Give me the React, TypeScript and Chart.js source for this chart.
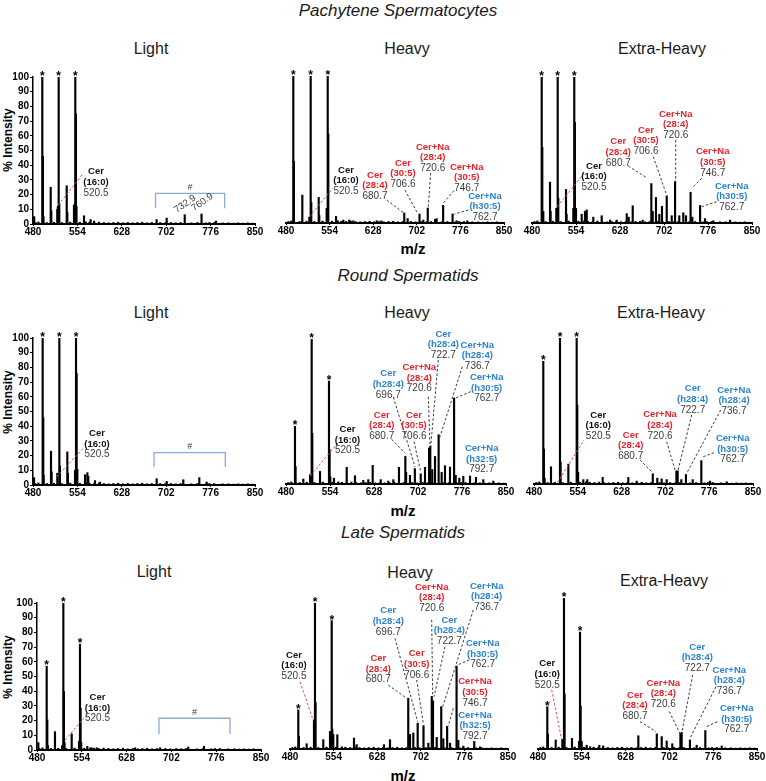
import React, { useEffect, useRef } from "react";
import { Chart, registerables } from "chart.js";

Chart.register(...registerables);

const FONT = '"Liberation Sans", Arial, Helvetica, sans-serif';

// ---------- axis tick labels ----------
const MZ_TICKS = [480, 554, 628, 702, 776, 850];
const INTENSITY_TICKS = [0, 10, 20, 30, 40, 50, 60, 70, 80, 90, 100];

type Peak = [number, number]; // [m/z, % intensity]

// ---------- spectra ----------
const pachyteneLight: Peak[] = [
  [482, 5], [495.5, 100], [496.5, 46], [497.5, 5], [509.5, 25], [510.5, 9], [520.5, 10], [521.5, 12],
  [522.8, 100], [523.8, 14], [536.2, 26], [537.2, 8], [548.3, 13], [550.5, 100], [551.5, 75], [552.5, 12],
  [565, 5.6], [576, 3], [581.7, 2], [686, 3], [702.8, 4], [732.9, 6.3], [760.9, 6.8], [785, 2],
];
const pachyteneHeavy: Peak[] = [
  [492.4, 100], [493.4, 42], [507.7, 19], [519.6, 4], [521.9, 100], [522.9, 14], [535.5, 17.4], [536.5, 5],
  [549, 10], [550.8, 100], [551.8, 60.6], [564.9, 4.5], [577.3, 2], [587.4, 2], [594.2, 1.5], [634, 1.5],
  [642, 1.5], [680.7, 6.8], [686.5, 3], [706.6, 6.1], [713, 2], [720.6, 10.2], [733, 2.5], [735.7, 3],
  [746.7, 12], [762.7, 6.1], [769.7, 1.5], [787.7, 1.5],
];
const pachyteneExtraHeavy: Peak[] = [
  [496.3, 100], [497.3, 51.8], [499, 8], [510.3, 28], [511.3, 8], [520.9, 10], [523.2, 100], [524.2, 17],
  [537.2, 23], [538.2, 6], [549.5, 10], [551.1, 100], [552.1, 69], [554, 10], [563.6, 6], [569.1, 8],
  [572, 9], [583.1, 4], [597.2, 5], [611.2, 2], [622.4, 2], [639.3, 6.4], [642.6, 4], [649.4, 11.8],
  [666.2, 2], [680.7, 27], [683, 8], [688.5, 17.5], [694.1, 6], [698.6, 11.4], [706.6, 18.6], [715, 5],
  [720.6, 28.4], [727.7, 5], [734.5, 7], [739, 5], [746.7, 21], [749.6, 4], [762.7, 12], [771, 3],
  [785, 1.5], [813, 2],
];
const roundLight: Peak[] = [
  [481.7, 5], [496.1, 100], [497.1, 45.8], [497.8, 6.6], [510, 23], [511, 9], [520.5, 8], [523.9, 100],
  [524.9, 13], [537.2, 22.5], [538.2, 8], [550, 10], [551.7, 100], [552.7, 76], [553.9, 10.7], [566.7, 7],
  [570.6, 8.4], [572.2, 6], [583.3, 3], [591.7, 2], [686.1, 4.3], [702.8, 2.5], [730.5, 3.6], [757.2, 5],
  [769.5, 2],
];
const roundHeavy: Peak[] = [
  [495.1, 39.8], [496.1, 12], [509.1, 3.4], [520.5, 6.4], [523.2, 100], [524.2, 35], [537.2, 8.7],
  [552.3, 71], [553.3, 23.7], [554.5, 5], [560.7, 4], [582.1, 11.5], [596, 5.7], [610, 2.5], [618.4, 3],
  [625.8, 12.9], [639.3, 3], [652, 2], [660.5, 3], [670, 11.5], [680.7, 19], [682, 8], [688.5, 6],
  [696.7, 10.6], [706.6, 7], [713.8, 11.5], [720.6, 24.8], [722.7, 26], [726, 10], [730.6, 19],
  [736.7, 34], [741.8, 8], [747.4, 12.6], [755.8, 11.7], [762.7, 59.3], [765.4, 6], [771.5, 4],
  [778.2, 5.3], [789.5, 5.5], [799.5, 4.6], [811.8, 3], [828.6, 2],
];
const roundExtraHeavy: Peak[] = [
  [495.7, 84], [496.7, 24], [498, 4], [508.7, 11.8], [523.9, 100], [524.9, 15], [538, 13.6], [552.1, 100],
  [553.1, 54], [554.5, 8], [563.3, 3], [570, 3], [596, 4.5], [639.3, 4.5], [653.5, 2], [680.7, 7],
  [688.3, 4], [695.7, 3.5], [704.2, 3], [720.6, 9], [722.7, 9], [728.9, 3], [736.7, 6.5], [748.1, 3],
  [762.7, 16], [777.4, 2], [805.6, 1.5],
];
const lateLight: Peak[] = [
  [482.2, 5], [496, 57], [497, 20.5], [498, 3], [509.7, 12.5], [521.5, 3], [523.5, 100], [524.5, 39.8],
  [525.5, 5], [537.3, 11], [549.4, 6], [551, 72], [552, 28.4], [553, 5], [563.1, 2.5], [570.3, 1.5],
  [578.6, 1.5], [641.9, 1.5], [683.2, 1.5], [729.9, 2], [755.8, 2.5],
];
const lateHeavy: Peak[] = [
  [494.1, 26.8], [495.1, 8.6], [508.3, 3.6], [520.7, 20], [522.4, 100], [523.4, 31.8], [536.5, 6.4],
  [547.9, 12], [550.8, 88], [551.8, 13.6], [553.5, 10], [560.3, 9.8], [588.6, 7.5], [593.2, 3],
  [639.5, 3], [649.7, 6.4], [680.7, 34.8], [683.7, 10], [689.3, 11], [696.7, 17.7], [706.6, 16],
  [714.8, 4], [720.6, 36], [722.7, 33], [729, 8], [736.7, 29], [740.2, 7], [746.7, 15.5], [751.6, 4],
  [762.7, 56.8], [765.7, 6], [774.2, 2], [792.7, 5.2], [802.5, 1.5],
];
const lateExtraHeavy: Peak[] = [
  [495.7, 28], [496.7, 10], [509.9, 6], [521.1, 6.4], [523.9, 100], [524.9, 36.5], [537.4, 7], [549.3, 5],
  [551, 77.4], [552, 28.5], [553.8, 5], [562.3, 2.5], [583.6, 2.5], [590, 2], [649.5, 8.8], [680.7, 10],
  [689, 8.2], [697.4, 5.3], [706.9, 3.5], [720.6, 10.4], [722.7, 11], [736.7, 6], [748.1, 2.5],
  [762.7, 12.2], [790.4, 2],
];

// low-level baseline noise seen under every spectrum
const baselineNoise: Peak[] = [
  [484, 1], [489, 1.4], [503, 1], [515, 1.2], [528, 1], [542, 1.3], [558, 1.2], [568, 1.5], [574, 1.2],
  [582, 1], [590, 1.3], [598, 1], [606, 0.8], [614, 1], [622, 1.2], [630, 0.8], [638, 1], [646, 0.8],
  [654, 1], [662, 1.2], [670, 0.8], [678, 1], [692, 1], [700, 0.8], [710, 1], [718, 0.8], [726, 1],
  [744, 0.8], [754, 1], [768, 0.8], [774, 1], [782, 1], [796, 0.8], [806, 0.8], [814, 0.6], [822, 0.8],
  [830, 0.6], [838, 0.8], [846, 0.6],
];

// peaks marked with an asterisk (m/z)
const pachyteneLightStars = [495.5, 522.8, 550.5];
const pachyteneHeavyStars = [492.4, 521.9, 550.8];
const pachyteneExtraHeavyStars = [496.3, 523.2, 551.1];
const roundLightStars = [496.1, 523.9, 551.7];
const roundHeavyStars = [495.1, 523.2, 552.3];
const roundExtraHeavyStars = [495.7, 523.9, 552.1];
const lateLightStars = [496, 523.5, 551];
const lateHeavyStars = [494.1, 522.4, 550.8];
const lateExtraHeavyStars = [495.7, 523.9, 551];

// ---------- annotations (positions in data units: [m/z, %]) ----------
type Tone = "k" | "r" | "b";
type Note = {
  name: string; chain: string; mass: string; tone: Tone;
  at: [number, number]; from?: [number, number]; to?: [number, number]; lineTone: Tone;
};
const note = (
  name: string, chain: string, mass: string, tone: Tone, at: [number, number],
  from?: [number, number], to?: [number, number], lineTone: Tone = "k"
): Note => ({ name, chain, mass, tone, at, from, to, lineTone });

const pachyteneLightNotes = [note("Cer", "(16:0)", "520.5", "k", [585, 35.6], [522.2, 12.9], [563.8, 34.5], "r")];
const pachyteneHeavyNotes = [
  note("Cer", "(16:0)", "520.5", "k", [581.8, 36.1], [519.5, 4.3], [559.3, 23.6], "r"),
  note("Cer", "(28:4)", "680.7", "r", [631, 32.7], [650.9, 15.6], [679.1, 7]),
  note("Cer", "(30:5)", "706.6", "r", [678.6, 40.8], [682, 22.4], [702.8, 7]),
  note("Cer+Na", "(28:4)", "720.6", "r", [729, 51.7], [725.6, 34], [721.5, 11.1]),
  note("Cer+Na", "(30:5)", "746.7", "r", [786.7, 38.1], [765.1, 22], [747, 13.6]),
  note("Cer+Na", "(h30:5)", "762.7", "b", [817.7, 18.4], [789.4, 8.8], [765.6, 6.1]),
];
const pachyteneExtraHeavyNotes = [
  note("Cer", "(16:0)", "520.5", "k", [584.3, 39], [522.5, 11.2], [567.5, 34], "r"),
  note("Cer", "(28:4)", "680.7", "r", [625.1, 55.7], [642, 39], [671.7, 31.3]),
  note("Cer", "(30:5)", "706.6", "r", [671.7, 63.7], [684, 45.4], [705.4, 20.3]),
  note("Cer+Na", "(28:4)", "720.6", "r", [721.7, 74.7], [721.7, 56.8], [721.7, 28.3]),
  note("Cer+Na", "(30:5)", "746.7", "r", [783.9, 48.8], [765.4, 30.6], [748.6, 23.8]),
  note("Cer+Na", "(h30:5)", "762.7", "b", [815.9, 25.3], [790.6, 14.6], [765.4, 11.2]),
];
const roundLightNotes = [note("Cer", "(16:0)", "520.5", "k", [586.7, 35.2], [519.5, 5.6], [563.8, 25], "r")];
const roundHeavyNotes = [
  note("Cer", "(16:0)", "520.5", "k", [583.4, 37.7], [520.4, 5.5], [569.1, 29.2], "r"),
  note("Cer", "(28:4)", "680.7", "r", [641, 47.6], [657.8, 30.8], [680.1, 21.2]),
  note("Cer", "(h28:4)", "696.7", "b", [652, 76.3], [660.5, 59.8], [697, 11.9]),
  note("Cer", "(30:5)", "706.6", "r", [695.3, 47.6], [695.3, 29.2], [706.5, 8.5]),
  note("Cer+Na", "(28:4)", "720.6", "r", [704.2, 80.5], [719.3, 60.2], [722.2, 25.7]),
  note("Cer", "(h28:4)", "722.7", "b", [744.6, 103.4], [736.1, 85.5], [723.4, 25.7]),
  note("Cer+Na", "(h28:4)", "736.7", "b", [801.8, 95.9], [776.5, 80.9], [739, 32.6]),
  note("Cer+Na", "(h30:5)", "762.7", "b", [817.5, 73.6], [790.6, 63.7], [764.2, 59.1]),
  note("Cer+Na", "(h32:5)", "792.7", "b", [809.1, 24.6]),
];
const roundExtraHeavyNotes = [
  note("Cer", "(16:0)", "520.5", "k", [588.6, 47.3], [519.4, 0.9], [564.5, 30.1], "r"),
  note("Cer", "(28:4)", "680.7", "r", [643.4, 33.6], [659.1, 16.4], [678.9, 8.4]),
  note("Cer+Na", "(28:4)", "720.6", "r", [692.9, 47.7], [704.2, 29], [718.2, 9.6]),
  note("Cer", "(h28:4)", "722.7", "b", [748.1, 65.5], [746.4, 47.3], [722.8, 8.4]),
  note("Cer+Na", "(h28:4)", "736.7", "b", [817.9, 64.4], [795.4, 50.7], [738, 7.3]),
  note("Cer+Na", "(h30:5)", "762.7", "b", [815.7, 31.3], [784.1, 21.4], [766, 18.7]),
];
const lateLightNotes = [note("Cer", "(16:0)", "520.5", "k", [579.9, 35.9], [526.3, 6.8], [564.7, 25], "r")];
const lateHeavyNotes = [
  note("Cer", "(16:0)", "520.5", "k", [486.8, 64.4], [497, 46.1], [519.5, 19.4], "r"),
  note("Cer", "(28:4)", "680.7", "r", [629.9, 62.1], [646.8, 43.8], [678, 34.7]),
  note("Cer", "(h28:4)", "696.7", "b", [646.8, 94.7], [658.2, 75.8], [696.7, 18.7]),
  note("Cer", "(30:5)", "706.6", "r", [695, 65.5], [695, 47.3], [706.2, 17.6]),
  note("Cer+Na", "(28:4)", "720.6", "r", [720.5, 111], [720.5, 88.4], [722.2, 35.8]),
  note("Cer", "(h28:4)", "722.7", "b", [750.5, 88.4], [743.1, 70.1], [724.4, 35.8]),
  note("Cer+Na", "(h28:4)", "736.7", "b", [813.8, 111.6], [791.1, 95.2], [739.2, 29]),
  note("Cer+Na", "(h30:5)", "762.7", "b", [807, 72.4], [784.3, 61], [763.9, 57.5]),
  note("Cer+Na", "(30:5)", "746.7", "r", [794, 46.1], [757.2, 27.9], [748.7, 15.8]),
  note("Cer+Na", "(h32:5)", "792.7", "b", [794, 23.3]),
];
const lateExtraHeavyNotes = [
  note("Cer", "(16:0)", "520.5", "k", [495.7, 56.4], [503.1, 39.2], [520, 6], "r"),
  note("Cer", "(28:4)", "680.7", "r", [643.9, 35.8], [652.3, 18.1], [679.4, 11.5]),
  note("Cer+Na", "(28:4)", "720.6", "r", [691.7, 43.6], [701.8, 24.8], [719.9, 10.4]),
  note("Cer", "(h28:4)", "722.7", "b", [749.1, 67.5], [741.4, 49.1], [723.3, 11.5]),
  note("Cer+Na", "(h28:4)", "736.7", "b", [803.2, 52.4], [780.7, 41.3], [736.8, 7.1]),
  note("Cer+Na", "(h30:5)", "762.7", "b", [815.7, 27], [782.9, 18.1], [765, 14.8]),
];

// bracket "#" regions on Light spectra: [start m/z, end m/z, top %, bottom %]
type Bracket = { span: [number, number]; top: number; bottom: number };
const pachyteneLightBracket: Bracket = { span: [684.2, 799.5], top: 20.9, bottom: 10.7 };
const roundLightBracket: Bracket = { span: [681.7, 800.5], top: 22, bottom: 12.4 };
const lateLightBracket: Bracket = { span: [681.5, 798.8], top: 21.6, bottom: 10.9 };
// slanted peak labels in pachytene light: [text, m/z, %]
const pachyteneLightTilted: [string, number, number][] = [["732.9", 733.3, 13.6], ["760.9", 762.2, 14.8]];

// ---------- layout ----------
type Box = { x0: number; x1: number; yt: number; yb: number };
type PanelSpec = {
  key: string; box: Box; showY: boolean; peaks: Peak[]; stars: number[]; notes: Note[];
  bracket?: Bracket; tilted?: [string, number, number][];
};

const PANELS: PanelSpec[] = [
  { key: "pl", box: { x0: 33, x1: 255, yt: 77, yb: 224 }, showY: true, peaks: pachyteneLight, stars: pachyteneLightStars, notes: pachyteneLightNotes, bracket: pachyteneLightBracket, tilted: pachyteneLightTilted },
  { key: "ph", box: { x0: 286, x1: 504, yt: 76, yb: 223 }, showY: false, peaks: pachyteneHeavy, stars: pachyteneHeavyStars, notes: pachyteneHeavyNotes },
  { key: "pe", box: { x0: 532, x1: 752, yt: 77, yb: 223 }, showY: false, peaks: pachyteneExtraHeavy, stars: pachyteneExtraHeavyStars, notes: pachyteneExtraHeavyNotes },
  { key: "rl", box: { x0: 33, x1: 255, yt: 338, yb: 485 }, showY: true, peaks: roundLight, stars: roundLightStars, notes: roundLightNotes, bracket: roundLightBracket },
  { key: "rh", box: { x0: 286, x1: 506, yt: 339, yb: 484 }, showY: false, peaks: roundHeavy, stars: roundHeavyStars, notes: roundHeavyNotes },
  { key: "re", box: { x0: 534, x1: 753, yt: 338, yb: 484 }, showY: false, peaks: roundExtraHeavy, stars: roundExtraHeavyStars, notes: roundExtraHeavyNotes },
  { key: "ll", box: { x0: 37, x1: 261, yt: 603, yb: 750 }, showY: true, peaks: lateLight, stars: lateLightStars, notes: lateLightNotes, bracket: lateLightBracket },
  { key: "lh", box: { x0: 290, x1: 508, yt: 603, yb: 749 }, showY: false, peaks: lateHeavy, stars: lateHeavyStars, notes: lateHeavyNotes },
  { key: "le", box: { x0: 538, x1: 757, yt: 598, yb: 749 }, showY: false, peaks: lateExtraHeavy, stars: lateExtraHeavyStars, notes: lateExtraHeavyNotes },
];

const PAD_L = 36, PAD_T = 46, PAD_R = 14, PAD_B = 28;

const TONE: Record<Tone, string> = { k: "#111111", r: "#e4242b", b: "#2a83d2" };
const LINE_TONE: Record<Tone, string> = { k: "#3a3a3a", r: "#ea4a44", b: "#2a83d2" };
const NUM_COLOR = "#3b3b3b";

function makeOverlay(spec: PanelSpec) {
  return {
    id: "overlay_" + spec.key,
    afterDatasetsDraw(chart: any) {
      const ctx: CanvasRenderingContext2D = chart.ctx;
      const xs = chart.scales.x;
      const ys = chart.scales.y;
      const X = (v: number) => xs.getPixelForValue(v);
      const Y = (v: number) => ys.getPixelForValue(v);
      ctx.save();
      // asterisks
      ctx.fillStyle = "#000";
      ctx.font = `bold 12px ${FONT}`;
      ctx.textAlign = "center";
      ctx.textBaseline = "alphabetic";
      for (const mz of spec.stars) {
        const pk = spec.peaks.find((p) => p[0] === mz);
        const h = pk ? pk[1] : 0;
        ctx.fillText("*", X(mz), Y(h) + 3);
      }
      // annotations
      for (const n of spec.notes) {
        if (n.from && n.to) {
          ctx.save();
          ctx.setLineDash([2.5, 2]);
          ctx.lineWidth = 1;
          ctx.strokeStyle = LINE_TONE[n.lineTone];
          ctx.beginPath();
          ctx.moveTo(X(n.from[0]), Y(n.from[1]));
          ctx.lineTo(X(n.to[0]), Y(n.to[1]));
          ctx.stroke();
          ctx.restore();
        }
        const ax = X(n.at[0]);
        const ay = Y(n.at[1]);
        const LH = 10.7;
        ctx.textAlign = "center";
        ctx.textBaseline = "middle";
        ctx.font = `bold 9.5px ${FONT}`;
        ctx.fillStyle = TONE[n.tone];
        ctx.fillText(n.name, ax, ay);
        ctx.fillText(n.chain, ax, ay + LH);
        ctx.font = `10px ${FONT}`;
        ctx.fillStyle = NUM_COLOR;
        ctx.fillText(n.mass, ax, ay + 2 * LH);
      }
      // bracket
      if (spec.bracket) {
        const b = spec.bracket;
        ctx.strokeStyle = "#8eaad6";
        ctx.lineWidth = 1.3;
        ctx.beginPath();
        ctx.moveTo(X(b.span[0]), Y(b.bottom));
        ctx.lineTo(X(b.span[0]), Y(b.top));
        ctx.lineTo(X(b.span[1]), Y(b.top));
        ctx.lineTo(X(b.span[1]), Y(b.bottom));
        ctx.stroke();
        ctx.fillStyle = NUM_COLOR;
        ctx.font = `9px ${FONT}`;
        ctx.textAlign = "center";
        ctx.textBaseline = "middle";
        ctx.fillText("#", (X(b.span[0]) + X(b.span[1])) / 2, Y(b.top) - 6);
      }
      // tilted labels
      if (spec.tilted) {
        ctx.fillStyle = NUM_COLOR;
        ctx.font = `9.5px ${FONT}`;
        ctx.textAlign = "center";
        ctx.textBaseline = "middle";
        for (const [t, mz, v] of spec.tilted) {
          ctx.save();
          ctx.translate(X(mz), Y(v));
          ctx.rotate((-35 * Math.PI) / 180);
          ctx.fillText(t, 0, 0);
          ctx.restore();
        }
      }
      ctx.restore();
    },
  };
}

function SpectrumPanel({ spec }: { spec: PanelSpec }) {
  const ref = useRef<HTMLCanvasElement | null>(null);
  const W = spec.box.x1 - spec.box.x0 + PAD_L + PAD_R;
  const H = spec.box.yb - spec.box.yt + PAD_T + PAD_B;
  useEffect(() => {
    if (!ref.current) return;
    const barStyle = {
      backgroundColor: "#000",
      borderWidth: 0,
      barThickness: 1.5,
      grouped: false,
    };
    const chart = new Chart(ref.current, {
      type: "bar",
      data: {
        datasets: [
          { ...barStyle, data: spec.peaks.map(([x, y]) => ({ x, y })) } as any,
          { ...barStyle, data: baselineNoise.map(([x, y]) => ({ x, y })) } as any,
        ],
      },
      options: {
        animation: false,
        responsive: false,
        maintainAspectRatio: false,
        layout: { padding: { left: 0, top: PAD_T, right: PAD_R, bottom: 0 } },
        plugins: { legend: { display: false }, tooltip: { enabled: false }, title: { display: false } },
        scales: {
          x: {
            type: "linear",
            min: 480,
            max: 850,
            offset: false,
            afterBuildTicks: (s: any) => { s.ticks = MZ_TICKS.map((value) => ({ value })); },
            afterFit: (s: any) => { s.height = PAD_B; },
            ticks: {
              color: "#000",
              font: { family: FONT, size: 10, weight: "bold" },
              padding: 0,
              autoSkip: false,
              maxRotation: 0,
              minRotation: 0,
            },
            grid: { display: true, drawOnChartArea: false, drawTicks: true, tickLength: 2, color: "#000", lineWidth: 1, offset: false },
            border: { display: true, color: "#000", width: 2 },
          },
          y: {
            type: "linear",
            min: 0,
            max: 100,
            afterBuildTicks: (s: any) => { s.ticks = INTENSITY_TICKS.map((value) => ({ value })); },
            afterFit: (s: any) => { s.width = PAD_L; },
            ticks: {
              display: spec.showY,
              color: "#000",
              font: { family: FONT, size: 10, weight: "bold" },
              padding: 1,
              autoSkip: false,
            },
            grid: { display: spec.showY, drawOnChartArea: false, drawTicks: true, tickLength: 3, color: "#000" },
            border: { display: spec.showY, color: "#000", width: 1.5 },
          },
        },
      } as any,
      plugins: [makeOverlay(spec)],
    });
    return () => chart.destroy();
  }, [spec]);
  return (
    <canvas
      ref={ref}
      width={W}
      height={H}
      style={{ position: "absolute", left: spec.box.x0 - PAD_L, top: spec.box.yt - PAD_T, width: W, height: H }}
    />
  );
}

// ---------- text layout ----------
const GROUP_TITLES: [string, number, number][] = [
  ["Pachytene Spermatocytes", 398, 10],
  ["Round Spermatids", 408, 275],
  ["Late Spermatids", 403, 532],
];
const PANEL_TITLES: [string, number, number][] = [
  ["Light", 151, 49], ["Heavy", 407, 49], ["Extra-Heavy", 662, 49],
  ["Light", 151, 313], ["Heavy", 407, 313], ["Extra-Heavy", 661, 313],
  ["Light", 154, 572], ["Heavy", 410, 573], ["Extra-Heavy", 664, 581],
];
const X_TITLES: [number, number][] = [[413, 248], [403, 510], [403, 775]];
const Y_TITLES: [number, number][] = [[8, 140], [8, 402], [8, 667]];

const centered = (x: number, y: number, extra: React.CSSProperties = {}): React.CSSProperties => ({
  position: "absolute",
  left: x,
  top: y,
  transform: "translate(-50%, -50%)",
  whiteSpace: "nowrap",
  lineHeight: 1,
  fontFamily: FONT,
  color: "#1a1a1a",
  ...extra,
});

export default function App() {
  return (
    <div style={{ position: "absolute", left: 0, top: 0, width: 766, height: 781, background: "#fff", overflow: "hidden" }}>
      {GROUP_TITLES.map(([t, x, y]) => (
        <div key={t} style={centered(x, y, { fontSize: 17, fontStyle: "italic" })}>{t}</div>
      ))}
      {PANEL_TITLES.map(([t, x, y], i) => (
        <div key={t + i} style={centered(x, y, { fontSize: 16 })}>{t}</div>
      ))}
      {X_TITLES.map(([x, y], i) => (
        <div key={"mz" + i} style={centered(x, y, { fontSize: 15, fontWeight: "bold", color: "#000" })}>m/z</div>
      ))}
      {Y_TITLES.map(([x, y], i) => (
        <div key={"yi" + i} style={centered(x, y, { fontSize: 12, fontWeight: "bold", color: "#000", transform: "translate(-50%, -50%) rotate(-90deg)" })}>% Intensity</div>
      ))}
      {PANELS.map((p) => (
        <SpectrumPanel key={p.key} spec={p} />
      ))}
    </div>
  );
}
